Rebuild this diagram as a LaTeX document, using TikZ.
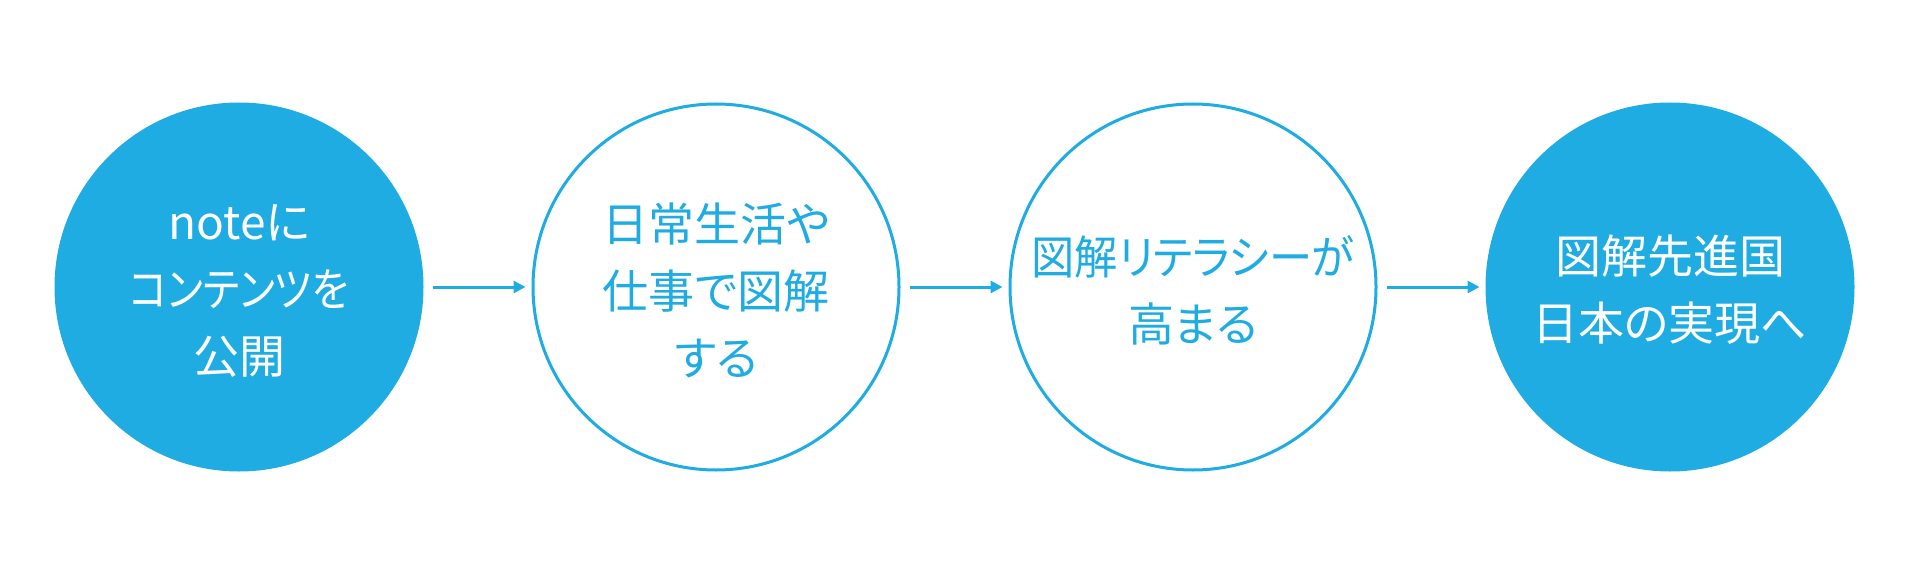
\documentclass[tikz,border=0pt]{standalone}
\usepackage{graphicx}
\usepackage{fontspec}
\newfontfamily\jp[RawFeature={+palt}]{Noto Sans CJK JP}
\usetikzlibrary{arrows.meta}
\definecolor{zblue}{RGB}{30,172,226}
\begin{document}
\begin{tikzpicture}[x=1pt,y=-1pt,
  bubble/.style={circle,minimum size=366pt,inner sep=0pt,line width=3pt,draw=zblue},
  solidb/.style={bubble,fill=zblue},
  openb/.style={bubble,fill=white},
  txt/.style={align=center,font=\jp\fontsize{46}{67}\selectfont},
  arr/.style={line width=3pt,draw=zblue,-{Triangle[length=12pt,width=12pt]},shorten <=9pt,shorten >=6pt}]
\useasboundingbox (0,0) rectangle (1909,583);
\node[solidb] (c1) at (239,287) {};
\node[openb]  (c2) at (716,287) {};
\node[openb]  (c3) at (1193,287) {};
\node[solidb] (c4) at (1670,287) {};
\node[txt,text=white] (t1) at (239,291) {noteに\\\scalebox{0.87}[1]{コンテンツを}\\公開};
\node[txt,text=zblue] (t2) at (716,290) {日常生活や\\仕事で図解\\する};
\node[txt,text=zblue] (t3) at (1193,290) {\scalebox{0.94}[1]{図解リテラシーが}\\高まる};
\node[txt,text=white] (t4) at (1670,290) {図解先進国\\日本の実現へ};
\draw[arr] (c1) -- (c2);
\draw[arr] (c2) -- (c3);
\draw[arr] (c3) -- (c4);
\end{tikzpicture}
\end{document}
